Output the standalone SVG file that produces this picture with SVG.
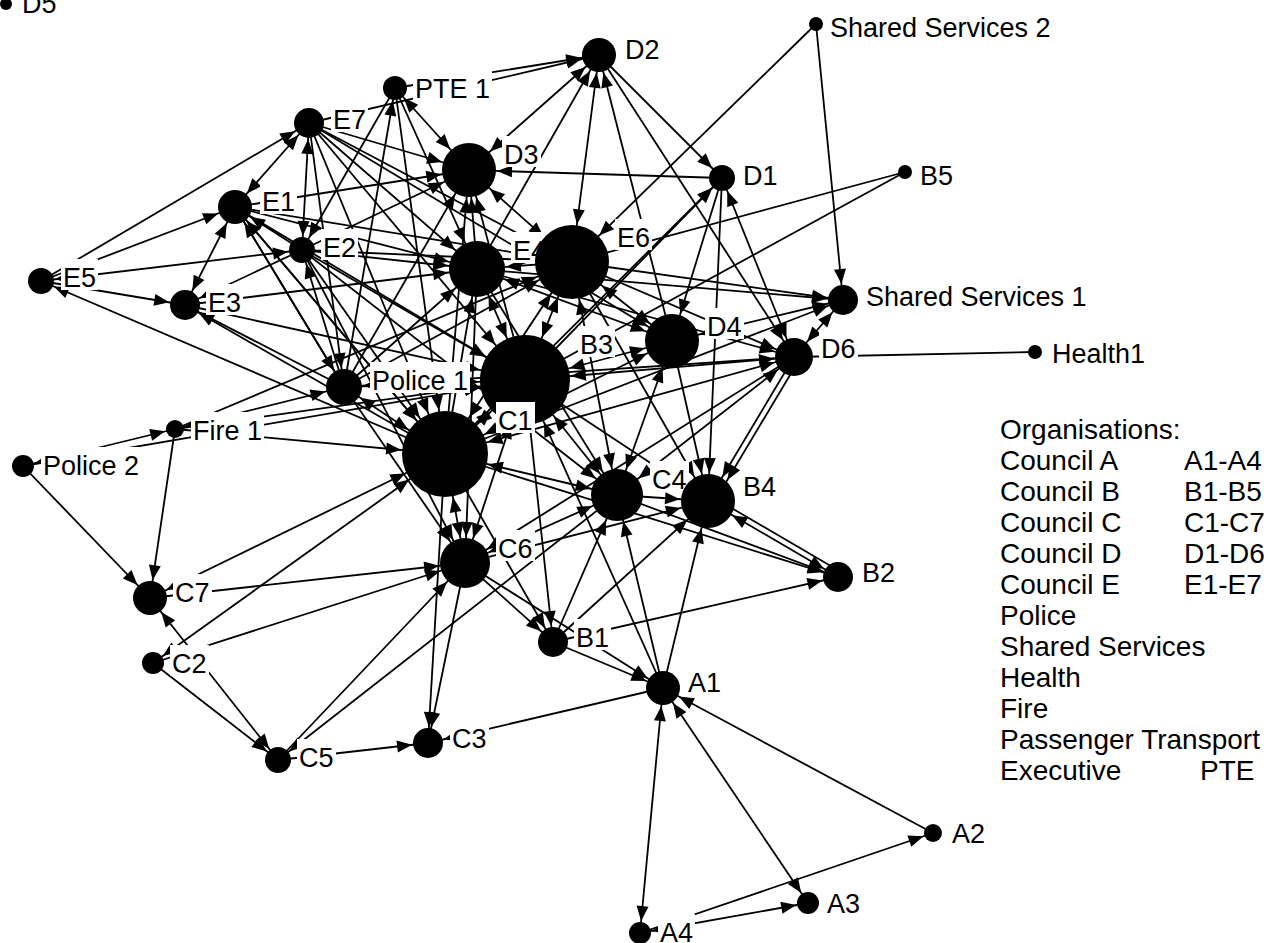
<svg xmlns="http://www.w3.org/2000/svg" xmlns:xlink="http://www.w3.org/1999/xlink" width="1268" height="943" viewBox="0 0 1268 943">
<style>
#connectors line{stroke:#000;stroke-width:1.8;fill:none}
.n circle{fill:#000}
.n rect{fill:#fff}
.n text{font-family:"Liberation Sans",Arial,sans-serif;font-size:27px;fill:#000}
.lg{font-family:"Liberation Sans",Arial,sans-serif;font-size:28px;fill:#000}
.t9{marker-end:url(#m9)}.t11{marker-end:url(#m11)}.t12{marker-end:url(#m12)}.t13{marker-end:url(#m13)}.t15{marker-end:url(#m15)}.t17{marker-end:url(#m17)}.t18{marker-end:url(#m18)}.t19{marker-end:url(#m19)}.t25{marker-end:url(#m25)}.t26{marker-end:url(#m26)}.t27{marker-end:url(#m27)}.t28{marker-end:url(#m28)}.t37{marker-end:url(#m37)}.t43{marker-end:url(#m43)}.t45{marker-end:url(#m45)}
.s9{marker-start:url(#m9)}.s11{marker-start:url(#m11)}.s12{marker-start:url(#m12)}.s13{marker-start:url(#m13)}.s15{marker-start:url(#m15)}.s17{marker-start:url(#m17)}.s18{marker-start:url(#m18)}.s19{marker-start:url(#m19)}.s25{marker-start:url(#m25)}.s26{marker-start:url(#m26)}.s27{marker-start:url(#m27)}.s28{marker-start:url(#m28)}.s37{marker-start:url(#m37)}.s43{marker-start:url(#m43)}.s45{marker-start:url(#m45)}
</style>
<defs>
<path id="ah" d="M0,0 L-15,-6 L-15,6 Z" fill="#000"/>
<marker id="m9" markerUnits="userSpaceOnUse" refX="10" refY="0" orient="auto-start-reverse" overflow="visible"><use href="#ah"/></marker>
<marker id="m11" markerUnits="userSpaceOnUse" refX="12" refY="0" orient="auto-start-reverse" overflow="visible"><use href="#ah"/></marker>
<marker id="m12" markerUnits="userSpaceOnUse" refX="13" refY="0" orient="auto-start-reverse" overflow="visible"><use href="#ah"/></marker>
<marker id="m13" markerUnits="userSpaceOnUse" refX="14" refY="0" orient="auto-start-reverse" overflow="visible"><use href="#ah"/></marker>
<marker id="m15" markerUnits="userSpaceOnUse" refX="16" refY="0" orient="auto-start-reverse" overflow="visible"><use href="#ah"/></marker>
<marker id="m17" markerUnits="userSpaceOnUse" refX="18" refY="0" orient="auto-start-reverse" overflow="visible"><use href="#ah"/></marker>
<marker id="m18" markerUnits="userSpaceOnUse" refX="19" refY="0" orient="auto-start-reverse" overflow="visible"><use href="#ah"/></marker>
<marker id="m19" markerUnits="userSpaceOnUse" refX="20" refY="0" orient="auto-start-reverse" overflow="visible"><use href="#ah"/></marker>
<marker id="m25" markerUnits="userSpaceOnUse" refX="26" refY="0" orient="auto-start-reverse" overflow="visible"><use href="#ah"/></marker>
<marker id="m26" markerUnits="userSpaceOnUse" refX="27" refY="0" orient="auto-start-reverse" overflow="visible"><use href="#ah"/></marker>
<marker id="m27" markerUnits="userSpaceOnUse" refX="28" refY="0" orient="auto-start-reverse" overflow="visible"><use href="#ah"/></marker>
<marker id="m28" markerUnits="userSpaceOnUse" refX="29" refY="0" orient="auto-start-reverse" overflow="visible"><use href="#ah"/></marker>
<marker id="m37" markerUnits="userSpaceOnUse" refX="38" refY="0" orient="auto-start-reverse" overflow="visible"><use href="#ah"/></marker>
<marker id="m43" markerUnits="userSpaceOnUse" refX="44" refY="0" orient="auto-start-reverse" overflow="visible"><use href="#ah"/></marker>
<marker id="m45" markerUnits="userSpaceOnUse" refX="46" refY="0" orient="auto-start-reverse" overflow="visible"><use href="#ah"/></marker>
</defs>
<rect width="1268" height="943" fill="#fff"/>
<g id="connectors">
<line x1="41" y1="281" x2="309" y2="123" class="t15"/>
<line x1="41" y1="281" x2="235" y2="207" class="t17"/>
<line x1="41" y1="281" x2="302" y2="250" class="s13 t13"/>
<line x1="41" y1="281" x2="185" y2="305" class="t15"/>
<line x1="445" y1="454" x2="41" y2="281" class="t13"/>
<line x1="235" y1="207" x2="309" y2="123" class="s17 t15"/>
<line x1="302" y1="250" x2="309" y2="123" class="s13 t15"/>
<line x1="235" y1="207" x2="185" y2="305" class="s17 t15"/>
<line x1="302" y1="250" x2="235" y2="207" class="t17"/>
<line x1="302" y1="250" x2="185" y2="305" class="t15"/>
<line x1="185" y1="305" x2="477" y2="269" class="t28"/>
<line x1="185" y1="305" x2="525" y2="380" class="t45"/>
<line x1="309" y1="123" x2="599" y2="55" class="t17"/>
<line x1="395" y1="88" x2="599" y2="55" class="t17"/>
<line x1="309" y1="123" x2="469" y2="170" class="t27"/>
<line x1="309" y1="123" x2="477" y2="269" class="t28"/>
<line x1="309" y1="123" x2="572" y2="262" class="t37"/>
<line x1="309" y1="123" x2="525" y2="380" class="t45"/>
<line x1="309" y1="123" x2="445" y2="454" class="t43"/>
<line x1="309" y1="123" x2="672" y2="341" class="t27"/>
<line x1="309" y1="123" x2="344" y2="387" class="t18"/>
<line x1="235" y1="207" x2="477" y2="269" class="t28"/>
<line x1="235" y1="207" x2="469" y2="170" class="t27"/>
<line x1="235" y1="207" x2="525" y2="380" class="t45"/>
<line x1="235" y1="207" x2="445" y2="454" class="t43"/>
<line x1="235" y1="207" x2="344" y2="387" class="t18"/>
<line x1="235" y1="207" x2="572" y2="262" class="t37"/>
<line x1="302" y1="250" x2="477" y2="269" class="t28"/>
<line x1="302" y1="250" x2="572" y2="262" class="t37"/>
<line x1="302" y1="250" x2="469" y2="170" class="t27"/>
<line x1="302" y1="250" x2="525" y2="380" class="t45"/>
<line x1="302" y1="250" x2="445" y2="454" class="t43"/>
<line x1="302" y1="250" x2="617" y2="495" class="t26"/>
<line x1="302" y1="250" x2="465" y2="563" class="t25"/>
<line x1="344" y1="387" x2="235" y2="207" class="t17"/>
<line x1="445" y1="454" x2="235" y2="207" class="t17"/>
<line x1="344" y1="387" x2="302" y2="250" class="t13"/>
<line x1="344" y1="387" x2="185" y2="305" class="t15"/>
<line x1="445" y1="454" x2="185" y2="305" class="t15"/>
<line x1="395" y1="88" x2="469" y2="170" class="s12 t27"/>
<line x1="395" y1="88" x2="445" y2="454" class="t43"/>
<line x1="395" y1="88" x2="302" y2="250" class="t13"/>
<line x1="344" y1="387" x2="395" y2="88" class="t12"/>
<line x1="395" y1="88" x2="477" y2="269" class="t28"/>
<line x1="599" y1="55" x2="469" y2="170" class="s17 t27"/>
<line x1="477" y1="269" x2="599" y2="55" class="t17"/>
<line x1="599" y1="55" x2="572" y2="262" class="s17 t37"/>
<line x1="672" y1="341" x2="599" y2="55" class="t17"/>
<line x1="599" y1="55" x2="722" y2="178" class="t13"/>
<line x1="599" y1="55" x2="794" y2="357" class="t19"/>
<line x1="722" y1="178" x2="469" y2="170" class="t27"/>
<line x1="722" y1="178" x2="672" y2="341" class="t27"/>
<line x1="722" y1="178" x2="794" y2="357" class="s13 t19"/>
<line x1="525" y1="380" x2="722" y2="178" class="t13"/>
<line x1="445" y1="454" x2="722" y2="178" class="t13"/>
<line x1="816" y1="24" x2="572" y2="262" class="t37"/>
<line x1="816" y1="24" x2="843" y2="300" class="t15"/>
<line x1="905" y1="172" x2="572" y2="262"/>
<line x1="905" y1="172" x2="525" y2="380"/>
<line x1="572" y1="262" x2="843" y2="300" class="t15"/>
<line x1="477" y1="269" x2="843" y2="300" class="t15"/>
<line x1="672" y1="341" x2="843" y2="300" class="s27 t15"/>
<line x1="445" y1="454" x2="843" y2="300" class="t15"/>
<line x1="843" y1="300" x2="794" y2="357" class="s15 t19"/>
<line x1="1035" y1="352" x2="794" y2="357"/>
<line x1="469" y1="170" x2="572" y2="262" class="s27 t37"/>
<line x1="477" y1="269" x2="469" y2="170" class="t27"/>
<line x1="525" y1="380" x2="469" y2="170" class="t27"/>
<line x1="445" y1="454" x2="469" y2="170" class="t27"/>
<line x1="344" y1="387" x2="469" y2="170" class="t27"/>
<line x1="572" y1="262" x2="477" y2="269" class="t28"/>
<line x1="445" y1="454" x2="477" y2="269" class="t28"/>
<line x1="525" y1="380" x2="477" y2="269" class="s45 t28"/>
<line x1="344" y1="387" x2="477" y2="269" class="t28"/>
<line x1="672" y1="341" x2="477" y2="269" class="s27 t28"/>
<line x1="477" y1="269" x2="465" y2="563" class="t25"/>
<line x1="477" y1="269" x2="794" y2="357" class="t19"/>
<line x1="477" y1="269" x2="617" y2="495" class="t26"/>
<line x1="572" y1="262" x2="525" y2="380" class="s37 t45"/>
<line x1="445" y1="454" x2="572" y2="262" class="s43 t37"/>
<line x1="344" y1="387" x2="572" y2="262" class="t37"/>
<line x1="572" y1="262" x2="672" y2="341" class="s37 t27"/>
<line x1="572" y1="262" x2="794" y2="357" class="t19"/>
<line x1="572" y1="262" x2="617" y2="495" class="s37 t26"/>
<line x1="572" y1="262" x2="708" y2="501" class="t27"/>
<line x1="175" y1="429" x2="572" y2="262" class="t37"/>
<line x1="672" y1="341" x2="525" y2="380" class="s27 t45"/>
<line x1="794" y1="357" x2="525" y2="380" class="s19 t45"/>
<line x1="617" y1="495" x2="525" y2="380" class="s26 t45"/>
<line x1="445" y1="454" x2="525" y2="380" class="s43 t45"/>
<line x1="344" y1="387" x2="525" y2="380" class="t45"/>
<line x1="175" y1="429" x2="525" y2="380" class="t45"/>
<line x1="23" y1="466" x2="525" y2="380" class="t45"/>
<line x1="663" y1="688" x2="525" y2="380" class="t45"/>
<line x1="465" y1="563" x2="525" y2="380" class="s25 t45"/>
<line x1="525" y1="380" x2="708" y2="501" class="t27"/>
<line x1="525" y1="380" x2="553" y2="642" class="t15"/>
<line x1="344" y1="387" x2="445" y2="454" class="s18 t43"/>
<line x1="175" y1="429" x2="445" y2="454" class="t43"/>
<line x1="150" y1="598" x2="445" y2="454" class="s17 t43"/>
<line x1="153" y1="663" x2="445" y2="454" class="s11 t43"/>
<line x1="445" y1="454" x2="465" y2="563" class="s43 t25"/>
<line x1="445" y1="454" x2="428" y2="743" class="t15"/>
<line x1="445" y1="454" x2="617" y2="495" class="s43 t26"/>
<line x1="445" y1="454" x2="553" y2="642" class="t15"/>
<line x1="445" y1="454" x2="838" y2="577" class="t15"/>
<line x1="672" y1="341" x2="445" y2="454" class="s27 t43"/>
<line x1="794" y1="357" x2="445" y2="454" class="s19 t43"/>
<line x1="150" y1="598" x2="465" y2="563" class="t25"/>
<line x1="153" y1="663" x2="465" y2="563" class="t25"/>
<line x1="278" y1="760" x2="465" y2="563" class="t25"/>
<line x1="465" y1="563" x2="428" y2="743" class="t15"/>
<line x1="465" y1="563" x2="553" y2="642" class="t15"/>
<line x1="465" y1="563" x2="663" y2="688" class="t17"/>
<line x1="465" y1="563" x2="617" y2="495" class="s25 t26"/>
<line x1="465" y1="563" x2="708" y2="501" class="t27"/>
<line x1="344" y1="387" x2="465" y2="563" class="t25"/>
<line x1="794" y1="357" x2="465" y2="563" class="t25"/>
<line x1="672" y1="341" x2="617" y2="495" class="s27 t26"/>
<line x1="663" y1="688" x2="617" y2="495" class="t26"/>
<line x1="617" y1="495" x2="708" y2="501" class="t27"/>
<line x1="617" y1="495" x2="838" y2="577" class="t15"/>
<line x1="617" y1="495" x2="278" y2="760" class="t13"/>
<line x1="794" y1="357" x2="617" y2="495" class="s19 t26"/>
<line x1="553" y1="642" x2="617" y2="495" class="t26"/>
<line x1="794" y1="357" x2="708" y2="501" class="t27"/>
<line x1="799" y1="360" x2="713" y2="504" class="t27"/>
<line x1="672" y1="341" x2="708" y2="501" class="t27"/>
<line x1="663" y1="688" x2="708" y2="501" class="t27"/>
<line x1="553" y1="642" x2="708" y2="501" class="t27"/>
<line x1="708" y1="501" x2="838" y2="577" class="s27 t15"/>
<line x1="711" y1="496" x2="841" y2="572"/>
<line x1="722" y1="178" x2="708" y2="501" class="t27"/>
<line x1="553" y1="642" x2="663" y2="688" class="t17"/>
<line x1="553" y1="642" x2="838" y2="577" class="t15"/>
<line x1="663" y1="688" x2="428" y2="743" class="t15"/>
<line x1="933" y1="833" x2="663" y2="688" class="t17"/>
<line x1="663" y1="688" x2="808" y2="903" class="s17 t11"/>
<line x1="663" y1="688" x2="640" y2="933" class="s17 t11"/>
<line x1="640" y1="933" x2="808" y2="903" class="s11 t11"/>
<line x1="640" y1="933" x2="933" y2="833" class="t9"/>
<line x1="23" y1="466" x2="150" y2="598" class="t17"/>
<line x1="175" y1="429" x2="150" y2="598" class="t17"/>
<line x1="150" y1="598" x2="278" y2="760" class="s17 t13"/>
<line x1="153" y1="663" x2="278" y2="760" class="t13"/>
<line x1="278" y1="760" x2="428" y2="743" class="t15"/>
<line x1="175" y1="429" x2="344" y2="387" class="s9 t18"/>
<line x1="175" y1="429" x2="23" y2="466" class="s9 t11"/>
<line x1="794" y1="357" x2="344" y2="387" class="t18"/>
</g>
<g id="n-D5" class="n"><circle cx="6" cy="4" r="6"/><text x="22" y="13">D5</text></g>
<g id="n-SS2" class="n"><circle cx="816" cy="24" r="7"/><rect x="828" y="9" width="225" height="31"/><text x="830" y="37">Shared Services 2</text></g>
<g id="n-D2" class="n"><circle cx="599" cy="55" r="17"/><rect x="623" y="31" width="39" height="31"/><text x="625" y="59">D2</text></g>
<g id="n-PTE1" class="n"><circle cx="395" cy="88" r="12"/><rect x="413" y="70" width="79" height="31"/><text x="415" y="98">PTE 1</text></g>
<g id="n-E7" class="n"><circle cx="309" cy="123" r="15"/><rect x="331" y="101" width="37" height="31"/><text x="333" y="129">E7</text></g>
<g id="n-D3" class="n"><circle cx="469" cy="170" r="27"/><rect x="502" y="136" width="39" height="31"/><text x="504" y="164">D3</text></g>
<g id="n-D1" class="n"><circle cx="722" cy="178" r="13"/><rect x="741" y="157" width="39" height="31"/><text x="743" y="185">D1</text></g>
<g id="n-B5" class="n"><circle cx="905" cy="172" r="7"/><rect x="918" y="157" width="37" height="31"/><text x="920" y="185">B5</text></g>
<g id="n-E1" class="n"><circle cx="235" cy="207" r="17"/><rect x="260" y="183" width="37" height="31"/><text x="262" y="211">E1</text></g>
<g id="n-E2" class="n"><circle cx="302" cy="250" r="13"/><rect x="321" y="229" width="37" height="31"/><text x="323" y="257">E2</text></g>
<g id="n-E5" class="n"><circle cx="41" cy="281" r="13"/><rect x="61" y="259" width="37" height="31"/><text x="63" y="287">E5</text></g>
<g id="n-E3" class="n"><circle cx="185" cy="305" r="15"/><rect x="206" y="284" width="37" height="31"/><text x="208" y="312">E3</text></g>
<g id="n-E4" class="n"><circle cx="477" cy="269" r="28"/><rect x="511" y="232" width="37" height="31"/><text x="513" y="260">E4</text></g>
<g id="n-E6" class="n"><circle cx="572" cy="262" r="37"/><rect x="615" y="219" width="37" height="31"/><text x="617" y="247">E6</text></g>
<g id="n-SS1" class="n"><circle cx="843" cy="300" r="15"/><rect x="864" y="278" width="225" height="31"/><text x="866" y="306">Shared Services 1</text></g>
<g id="n-D4" class="n"><circle cx="672" cy="341" r="27"/><rect x="705" y="308" width="39" height="31"/><text x="707" y="336">D4</text></g>
<g id="n-D6" class="n"><circle cx="794" cy="357" r="19"/><rect x="819" y="330" width="39" height="31"/><text x="821" y="358">D6</text></g>
<g id="n-Health1" class="n"><circle cx="1035" cy="352" r="7"/><rect x="1050" y="335" width="97" height="31"/><text x="1052" y="363">Health1</text></g>
<g id="n-B3" class="n"><circle cx="525" cy="380" r="45"/><rect x="578" y="326" width="37" height="31"/><text x="580" y="354">B3</text></g>
<g id="n-Police1" class="n"><circle cx="344" cy="387" r="18"/><rect x="370" y="362" width="100" height="31"/><text x="372" y="390">Police 1</text></g>
<g id="n-Fire1" class="n"><circle cx="175" cy="429" r="9"/><rect x="191" y="412" width="73" height="31"/><text x="193" y="440">Fire 1</text></g>
<g id="n-Police2" class="n"><circle cx="23" cy="466" r="11"/><rect x="41" y="447" width="100" height="31"/><text x="43" y="475">Police 2</text></g>
<g id="n-C1" class="n"><circle cx="445" cy="454" r="43"/><rect x="496" y="402" width="39" height="31"/><text x="498" y="430">C1</text></g>
<g id="n-C4" class="n"><circle cx="617" cy="495" r="26"/><rect x="650" y="461" width="39" height="31"/><text x="652" y="489">C4</text></g>
<g id="n-B4" class="n"><circle cx="708" cy="501" r="27"/><rect x="741" y="468" width="37" height="31"/><text x="743" y="496">B4</text></g>
<g id="n-C6" class="n"><circle cx="465" cy="563" r="25"/><rect x="496" y="530" width="39" height="31"/><text x="498" y="558">C6</text></g>
<g id="n-B2" class="n"><circle cx="838" cy="577" r="15"/><rect x="860" y="554" width="37" height="31"/><text x="862" y="582">B2</text></g>
<g id="n-C7" class="n"><circle cx="150" cy="598" r="17"/><rect x="173" y="574" width="39" height="31"/><text x="175" y="602">C7</text></g>
<g id="n-B1" class="n"><circle cx="553" cy="642" r="15"/><rect x="574" y="619" width="37" height="31"/><text x="576" y="647">B1</text></g>
<g id="n-C2" class="n"><circle cx="153" cy="663" r="11"/><rect x="170" y="645" width="39" height="31"/><text x="172" y="673">C2</text></g>
<g id="n-A1" class="n"><circle cx="663" cy="688" r="17"/><rect x="686" y="664" width="37" height="31"/><text x="688" y="692">A1</text></g>
<g id="n-C3" class="n"><circle cx="428" cy="743" r="15"/><rect x="450" y="720" width="39" height="31"/><text x="452" y="748">C3</text></g>
<g id="n-C5" class="n"><circle cx="278" cy="760" r="13"/><rect x="297" y="739" width="39" height="31"/><text x="299" y="767">C5</text></g>
<g id="n-A2" class="n"><circle cx="933" cy="833" r="9"/><rect x="950" y="815" width="37" height="31"/><text x="952" y="843">A2</text></g>
<g id="n-A3" class="n"><circle cx="808" cy="903" r="11"/><rect x="825" y="885" width="37" height="31"/><text x="827" y="913">A3</text></g>
<g id="n-A4" class="n"><circle cx="640" cy="933" r="11"/><rect x="658" y="914" width="37" height="31"/><text x="660" y="942">A4</text></g>
<g id="legend">
<text class="lg" x="1000" y="439">Organisations:</text>
<text class="lg" x="1000" y="470">Council A</text><text class="lg" x="1184" y="470">A1-A4</text>
<text class="lg" x="1000" y="501">Council B</text><text class="lg" x="1184" y="501">B1-B5</text>
<text class="lg" x="1000" y="532">Council C</text><text class="lg" x="1184" y="532">C1-C7</text>
<text class="lg" x="1000" y="563">Council D</text><text class="lg" x="1184" y="563">D1-D6</text>
<text class="lg" x="1000" y="594">Council E</text><text class="lg" x="1184" y="594">E1-E7</text>
<text class="lg" x="1000" y="625">Police</text>
<text class="lg" x="1000" y="656">Shared Services</text>
<text class="lg" x="1000" y="687">Health</text>
<text class="lg" x="1000" y="718">Fire</text>
<text class="lg" x="1000" y="749">Passenger Transport</text>
<text class="lg" x="1000" y="780">Executive</text><text class="lg" x="1200" y="780">PTE</text>
</g>
</svg>
